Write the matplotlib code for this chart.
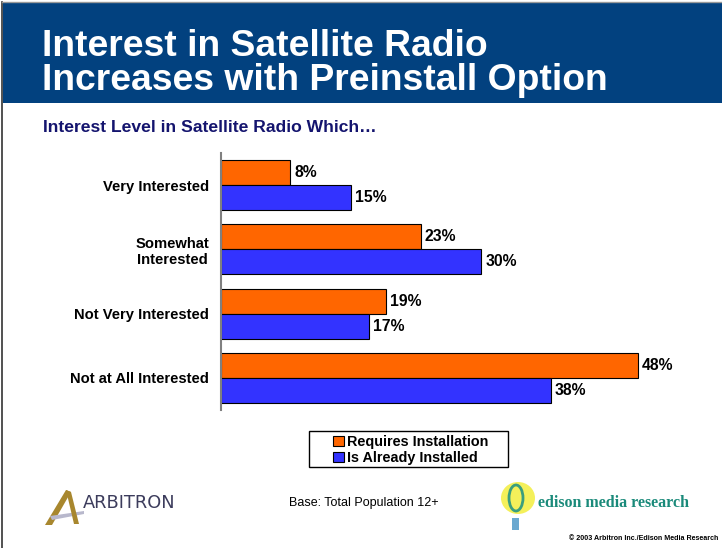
import matplotlib
matplotlib.use("Agg")
import matplotlib.pyplot as plt
from matplotlib.patches import Rectangle, Polygon, Ellipse
from matplotlib.lines import Line2D
import numpy as np

categories = ["Very Interested", "Somewhat\nInterested", "Not Very Interested", "Not at All Interested"]
requires_install = [8, 23, 19, 48]
already_installed = [15, 30, 17, 38]
series_names = ["Requires Installation", "Is Already Installed"]

ORANGE = "#FF6600"
BLUE = "#3333FF"
NAVY = "#02417F"

W, H = 722, 548
fig = plt.figure(figsize=(W / 100, H / 100), dpi=100)
fig.patch.set_facecolor("white")


def fx(px):
    return px / W


def fy(py):
    return 1 - py / H


# header band
fig.patches.append(Rectangle((fx(3), fy(103)), fx(719), 100 / H, transform=fig.transFigure,
                             facecolor=NAVY, edgecolor="none", zorder=0))
fig.lines.append(Line2D([fx(2), fx(2)], [0, fy(2)], transform=fig.transFigure, color="#333333", lw=1.2))
fig.lines.append(Line2D([fx(2), 1], [fy(2), fy(2)], transform=fig.transFigure, color="#999999", lw=1))

fig.text(fx(42), fy(56), "Interest in Satellite Radio", family="Liberation Sans", fontweight="bold",
         fontsize=26.8, color="white", va="baseline", ha="left")
fig.text(fx(42), fy(90), "Increases with Preinstall Option", family="Liberation Sans", fontweight="bold",
         fontsize=26.8, color="white", va="baseline", ha="left")

fig.text(fx(43), fy(127), "Interest Level in Satellite Radio Which\u2026", family="Liberation Sans",
         fontweight="bold", fontsize=12.6, color="#14146E", va="center", ha="left")

# chart
ax = fig.add_axes([fx(221), fy(410), 55 * 8.68 / W, 257 / H])
y = np.arange(len(categories))
h = 0.39
b1 = ax.barh(y - h / 2, requires_install, height=h, color=ORANGE, edgecolor="black", lw=0.8,
             label=series_names[0])
b2 = ax.barh(y + h / 2, already_installed, height=h, color=BLUE, edgecolor="black", lw=0.8,
             label=series_names[1])
ax.set_xlim(0, 55)
ax.set_ylim(3.5, -0.5)

for bars, vals in ((b1, requires_install), (b2, already_installed)):
    for rect, v in zip(bars, vals):
        ax.annotate(f"{v}%", (v, rect.get_y() + rect.get_height() / 2), xytext=(3, 0),
                    textcoords="offset points", va="center", ha="left",
                    family="Liberation Sans", fontweight="bold", fontsize=11.3)

ax.set_yticks(y)
ax.set_yticklabels(categories, family="Liberation Sans", fontweight="bold", fontsize=10.6,
                   multialignment="center")
ax.tick_params(axis="y", length=0, pad=8.5)
ax.set_xticks([])
for s in ("top", "right", "bottom"):
    ax.spines[s].set_visible(False)
ax.spines["left"].set_color("#808080")
ax.spines["left"].set_linewidth(1.5)

# legend with its own box
fig.patches.append(Rectangle((fx(309), fy(467)), 199 / W, 36 / H, transform=fig.transFigure,
                             facecolor="white", edgecolor="black", lw=1.0))
leg = fig.legend(handles=[b1, b2], loc="upper left", bbox_to_anchor=(fx(333), fy(435)),
                 frameon=False, borderpad=0, handlelength=0.75, handleheight=0.75,
                 handletextpad=0.25, labelspacing=0.15, borderaxespad=0,
                 prop={"family": "Liberation Sans", "weight": "bold", "size": 10.4})

# footer
fig.text(fx(289), fy(503), "Base: Total Population 12+", family="Liberation Sans", fontsize=9,
         va="center", ha="left")
fig.text(fx(718), fy(538), "\u00a9 2003 Arbitron Inc./Edison Media Research", family="Liberation Sans",
         fontweight="bold", fontsize=5.1, va="center", ha="right")

# Arbitron mark
fig.patches.append(Polygon([(fx(45), fy(525)), (fx(66), fy(490)), (fx(71), fy(492)), (fx(52), fy(525))],
                           transform=fig.transFigure, facecolor="#A8872E", edgecolor="none"))
fig.patches.append(Polygon([(fx(50), fy(516)), (fx(84), fy(511)), (fx(84), fy(514)), (fx(52), fy(520))],
                           transform=fig.transFigure, facecolor="#B8B8CC", edgecolor="none"))
fig.patches.append(Polygon([(fx(66), fy(490)), (fx(71), fy(492)), (fx(79), fy(524)), (fx(74), fy(524))],
                           transform=fig.transFigure, facecolor="#A8872E", edgecolor="none"))
fig.text(fx(83), fy(503), "ARBITRON", family="DejaVu Sans", fontsize=12.8, color="#3C3C5C",
         va="center", ha="left")

# edison mark
fig.patches.append(Ellipse((fx(518), fy(498)), 34 / W, 32 / H, transform=fig.transFigure,
                           facecolor="#F4F05A", edgecolor="none"))
fig.patches.append(Ellipse((fx(516), fy(498)), 14 / W, 26 / H, transform=fig.transFigure,
                           facecolor="none", edgecolor="#3A9E7E", lw=2))
fig.patches.append(Rectangle((fx(512), fy(530)), 7 / W, 12 / H, transform=fig.transFigure,
                             facecolor="#6AA8D0", edgecolor="none"))
fig.text(fx(538), fy(503), "edison media research", family="Liberation Serif", fontweight="bold",
         fontsize=11.5, color="#1A8A7A", va="center", ha="left")

fig.savefig("out.png", dpi=100, facecolor="white")
